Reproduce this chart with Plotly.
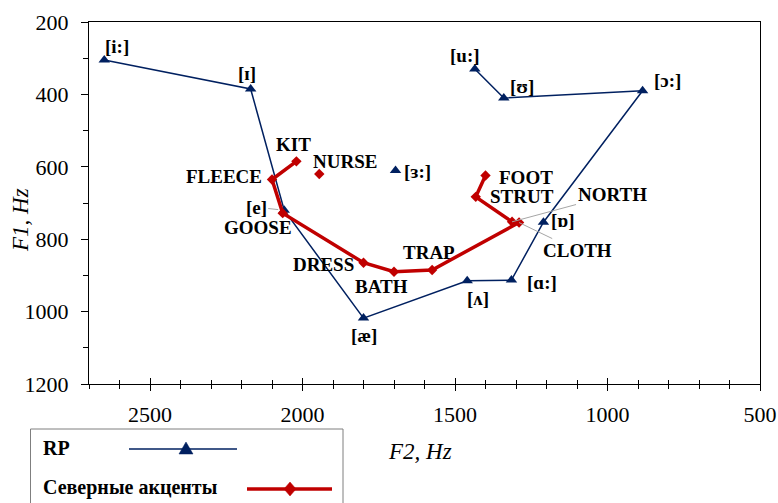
import plotly.graph_objects as go

# ---------------- data ----------------
rp_labels = ["[i:]", "[ɪ]", "[e]", "[æ]", "[ʌ]", "[ɑ:]", "[ɒ]", "[ɔ:]", "[ʊ]", "[u:]"]
rp_f2 = [2650, 2170, 2060, 1800, 1460, 1315, 1210, 885, 1340, 1435]
rp_f1 = [305, 385, 720, 1018, 915, 913, 753, 390, 410, 330]

rp_extra_labels = ["[ɜ:]"]
rp_extra_f2 = [1695]
rp_extra_f1 = [610]

north_labels = ["KIT", "FLEECE", "GOOSE", "DRESS", "BATH", "TRAP", "CLOTH", "NORTH", "STRUT", "FOOT"]
north_f2 = [2020, 2100, 2065, 1800, 1700, 1575, 1290, 1313, 1432, 1400]
north_f1 = [585, 635, 728, 865, 890, 885, 754, 752, 683, 624]

north_extra_labels = ["NURSE"]
north_extra_f2 = [1945]
north_extra_f1 = [620]

series_names = ["RP", "Северные акценты"]
x_title = "F2, Hz"
y_title = "F1, Hz"

# ---------------- styles ----------------
W, H = 778, 503
ML, MR, MT, MB = 89, 18, 22, 119
NAVY = "#002060"
RED = "#C00000"
GRAY = "#A6A6A6"
SERIF = "'Liberation Serif', 'Times New Roman', 'DejaVu Serif', serif"

# label offsets in pixels (dx right, dy up)
rp_offsets = {"[i:]": (13, 14), "[ɪ]": (-4, 15), "[e]": (-28, 3), "[æ]": (0, -17),
              "[ʌ]": (11, -18), "[ɑ:]": (31, -2), "[ɒ]": (20, 2), "[ɔ:]": (25, 10),
              "[ʊ]": (18, 12), "[u:]": (-10, 14), "[ɜ:]": (22, -1)}
north_offsets = {"KIT": (-3, 17), "FLEECE": (-48, 3), "GOOSE": (-25, -14), "DRESS": (-40, -2),
                 "BATH": (-13, -15), "TRAP": (-3, 17), "STRUT": (46, 0), "FOOT": (40, -2),
                 "NURSE": (26, 13)}
north_arrows = {"CLOTH": (58, 28), "NORTH": (100, -27)}

pw = W - ML - MR
ph = H - MT - MB


def px(x):
    return (x - ML) / pw


def py(y):
    return (H - MB - y) / ph


fig = go.Figure()

fig.add_trace(go.Scatter(
    x=rp_f2 + [None] + rp_extra_f2, y=rp_f1 + [None] + rp_extra_f1,
    mode="lines+markers", name=series_names[0], connectgaps=False,
    line=dict(color=NAVY, width=1.5),
    marker=dict(symbol="triangle-up", size=10, color=NAVY),
    showlegend=False, hoverinfo="skip"))

fig.add_trace(go.Scatter(
    x=north_f2 + [None] + north_extra_f2, y=north_f1 + [None] + north_extra_f1,
    mode="lines+markers", name=series_names[1], connectgaps=False,
    line=dict(color=RED, width=3.5),
    marker=dict(symbol="diamond", size=8, color=RED),
    showlegend=False, hoverinfo="skip"))

# helper trace for overlay axis (crossing x ticks)
fig.add_trace(go.Scatter(x=[None], y=[None], xaxis="x2", yaxis="y",
                         showlegend=False, hoverinfo="skip"))

annotations = []
label_font = dict(family=SERIF, size=19, color="black")

for lab, xv, yv in zip(rp_labels + rp_extra_labels, rp_f2 + rp_extra_f2, rp_f1 + rp_extra_f1):
    dx, dy = rp_offsets[lab]
    if lab == "[e]":
        annotations.append(dict(x=xv, y=yv, xref="x", yref="y", text="<b>%s</b>" % lab,
                                showarrow=True, ax=dx, ay=-dy, arrowhead=0, arrowwidth=1,
                                arrowcolor=GRAY, standoff=6, font=label_font))
    else:
        annotations.append(dict(x=xv, y=yv, xref="x", yref="y", text="<b>%s</b>" % lab,
                                showarrow=False, xshift=dx, yshift=dy,
                                xanchor="center", yanchor="middle", font=label_font))

for lab, xv, yv in zip(north_labels + north_extra_labels, north_f2 + north_extra_f2,
                       north_f1 + north_extra_f1):
    if lab in north_arrows:
        ax, ay = north_arrows[lab]
        annotations.append(dict(x=xv, y=yv, xref="x", yref="y", text="<b>%s</b>" % lab,
                                showarrow=True, ax=ax, ay=ay, arrowhead=0, arrowwidth=1,
                                arrowcolor=GRAY, standoff=0, font=label_font))
    else:
        dx, dy = north_offsets[lab]
        annotations.append(dict(x=xv, y=yv, xref="x", yref="y", text="<b>%s</b>" % lab,
                                showarrow=False, xshift=dx, yshift=dy,
                                xanchor="center", yanchor="middle", font=label_font))

# axis titles
annotations.append(dict(x=px(420), y=py(451), xref="paper", yref="paper",
                        text="<i>%s</i>" % x_title, showarrow=False,
                        xanchor="center", yanchor="middle",
                        font=dict(family=SERIF, size=23, color="black")))
annotations.append(dict(x=px(20), y=py(220), xref="paper", yref="paper",
                        text="<i>%s</i>" % y_title, showarrow=False, textangle=-90,
                        xanchor="center", yanchor="middle",
                        font=dict(family=SERIF, size=23, color="black")))

# custom legend (text left, sample right)
leg_font = dict(family=SERIF, size=20, color="black")
annotations.append(dict(x=px(41), y=py(448), xref="paper", yref="paper",
                        text="<b>%s</b>" % series_names[0], showarrow=False,
                        xanchor="left", yanchor="middle", font=leg_font))
annotations.append(dict(x=px(41), y=py(487), xref="paper", yref="paper",
                        text="<b>%s</b>" % series_names[1], showarrow=False,
                        xanchor="left", yanchor="middle", font=leg_font))

shapes = []
shapes.append(dict(type="rect", xref="paper", yref="paper",
                   x0=px(30.5), x1=px(343), y0=py(429), y1=py(520),
                   line=dict(color="#7F7F7F", width=1), fillcolor="rgba(0,0,0,0)"))
shapes.append(dict(type="line", xref="paper", yref="paper",
                   x0=px(129), x1=px(237), y0=py(449), y1=py(449),
                   line=dict(color=NAVY, width=1.5)))
tx, ty = 186, 449
shapes.append(dict(type="path", xref="paper", yref="paper",
                   path="M %f %f L %f %f L %f %f Z" % (px(tx - 7), py(ty + 5), px(tx + 7), py(ty + 5),
                                                       px(tx), py(ty - 7)),
                   line=dict(color=NAVY, width=0.5), fillcolor=NAVY))
shapes.append(dict(type="line", xref="paper", yref="paper",
                   x0=px(247), x1=px(332), y0=py(489), y1=py(489),
                   line=dict(color=RED, width=3.5)))
dxp, dyp = 290, 489
shapes.append(dict(type="path", xref="paper", yref="paper",
                   path="M %f %f L %f %f L %f %f L %f %f Z" % (px(dxp - 6), py(dyp), px(dxp), py(dyp - 7),
                                                             px(dxp + 6), py(dyp), px(dxp), py(dyp + 7)),
                   line=dict(color=RED, width=0.5), fillcolor=RED))

tick_font = dict(family=SERIF, size=22, color="black")

fig.update_layout(
    width=W, height=H,
    margin=dict(l=ML, r=MR, t=MT, b=MB, pad=0, autoexpand=False),
    paper_bgcolor="white", plot_bgcolor="white",
    showlegend=False,
    font=dict(family=SERIF, color="black"),
    annotations=annotations,
    shapes=shapes,
    xaxis=dict(range=[2700, 500], tick0=500, dtick=500, ticks="outside", ticklen=6,
               tickwidth=1, tickcolor="black", showline=True, linecolor="black", linewidth=1.3,
               mirror=True, showgrid=False, zeroline=False, tickfont=tick_font,
               ticklabelstandoff=4, automargin=False,
               minor=dict(dtick=100, tick0=500, ticks="outside", ticklen=4, tickcolor="black",
                          tickwidth=1, showgrid=False)),
    xaxis2=dict(range=[2700, 500], overlaying="x", anchor="y", side="bottom",
                tick0=500, dtick=500, ticks="inside", ticklen=6, tickwidth=1, tickcolor="black",
                showticklabels=False, showline=False, showgrid=False, zeroline=False,
                automargin=False,
                minor=dict(dtick=100, tick0=500, ticks="inside", ticklen=4, tickcolor="black",
                           tickwidth=1, showgrid=False)),
    yaxis=dict(range=[1200, 200], tick0=200, dtick=200, ticks="outside", ticklen=7,
               tickwidth=1, tickcolor="black", showline=True, linecolor="black", linewidth=1.3,
               mirror=True, showgrid=False, zeroline=False, tickfont=tick_font,
               ticklabelstandoff=8, automargin=False,
               minor=dict(dtick=100, tick0=200, ticks="outside", ticklen=5, tickcolor="black",
                          tickwidth=1, showgrid=False)),
)

fig.write_html("out.html", config={"displayModeBar": False},
               post_script="document.body.style.margin='0';")
